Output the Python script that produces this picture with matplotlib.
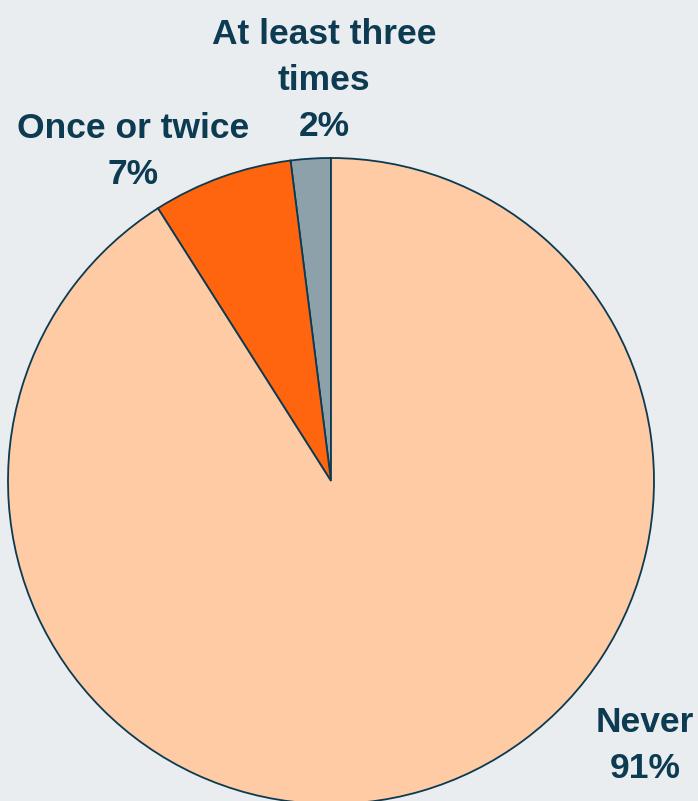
import matplotlib.pyplot as plt

labels = ["At least three\ntimes", "Once or twice", "Never"]
shares = [2, 7, 91]
colors = ["#8DA1AB", "#FF650F", "#FFCBA4"]

BG = "#E9EDEF"
INK = "#0D3B52"

# pixel geometry: pie centre and radius
W, H = 698, 801
cx, cy, r = 331, 481, 323

fig = plt.figure(figsize=(W / 100, H / 100), dpi=100, facecolor=BG)
ax = fig.add_axes([0, 0, 1, 1])
ax.set_facecolor(BG)

ax.pie(shares, colors=colors, startangle=90, counterclock=True, radius=1,
       wedgeprops=dict(edgecolor="#0B3A52", linewidth=1.3))

# pie() resets the limits, so set them afterwards
ax.set_aspect("auto")
ax.set_xlim(-cx / r, (W - cx) / r)
ax.set_ylim(-(H - cy) / r, cy / r)
ax.axis("off")

# label centres in pixels
label_px = [(324, 80), (133, 152), (645, 745)]
for lab, val, (px, py) in zip(labels, shares, label_px):
    ax.text((px - cx) / r, (cy - py) / r, f"{lab}\n{val}%", ha="center",
            va="center", fontsize=25.5, fontweight="bold", color=INK,
            family="Liberation Sans", linespacing=1.5)

fig.savefig("out.png", dpi=100, facecolor=BG)
